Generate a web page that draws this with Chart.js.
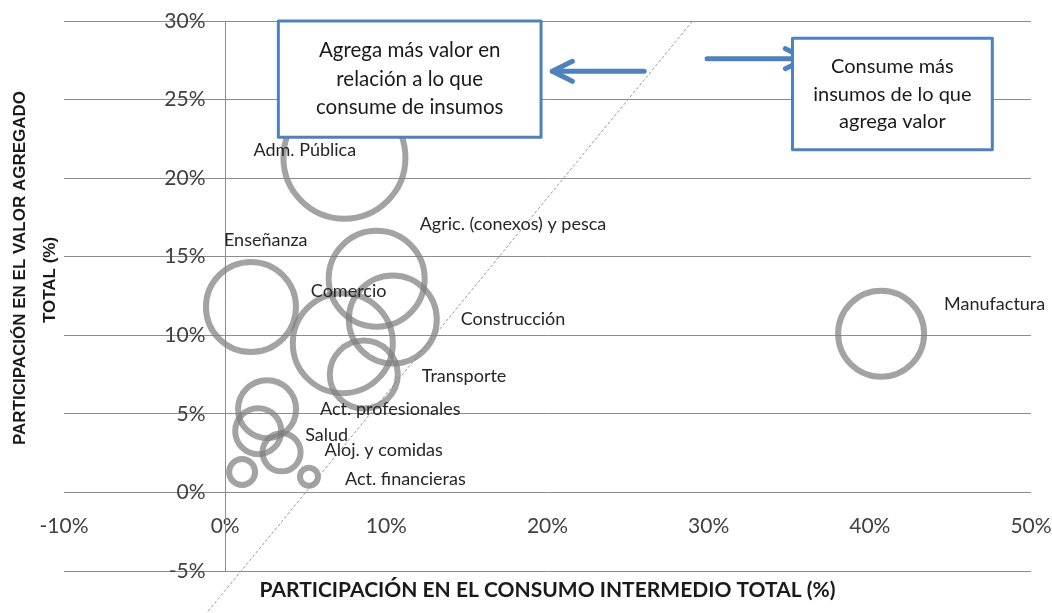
<!DOCTYPE html>
<html>
<head>
<meta charset="utf-8">
<script src="https://cdn.jsdelivr.net/npm/chart.js@4.4.1/dist/chart.umd.min.js"></script>
<style>
  html, body { margin: 0; padding: 0; background: #fff; }
</style>
</head>
<body>
<canvas id="grafico" width="1052" height="613"></canvas>
<script>
// datos (en %)
const sectores = ['Adm. Pública', 'Enseñanza', 'Agric. (conexos) y pesca', 'Construcción', 'Comercio',
  'Transporte', 'Act. profesionales', 'Salud', 'Aloj. y comidas', '', 'Act. financieras', 'Manufactura']
const consumoIntermedio = [7.4, 1.6, 9.4, 10.4, 7.3, 8.6, 2.6, 2.05, 3.5, 1.05, 5.2, 40.7]
const valorAgregado = [21.3, 11.8, 13.6, 11.0, 9.5, 7.5, 5.3, 3.9, 2.55, 1.3, 1.0, 10.1]
const tamano = [61, 45, 48, 44, 50, 34, 29, 23, 19, 13, 9, 43]

const ticksX = [-10, 0, 10, 20, 30, 40, 50]
const ticksY = [-5, 0, 5, 10, 15, 20, 25, 30]

// recta de referencia (punteada)
const diagonalX = [-1.25, 29]
const diagonalY = [-7.8, 30]

// posición de cada etiqueta respecto al centro de la burbuja (px)
const desplazamientos = [[-91, -8], [-27, -67], [43, -55], [68, 0], [-32, -52], [58, 2],
  [53, 0], [47, 4], [43, -2], [0, 0], [36, 2], [63, -30]]

const azul = '#4F81BD'

const etiquetas = {
  id: 'etiquetas',
  afterDatasetsDraw(chart) {
    const ctx = chart.ctx
    const meta = chart.getDatasetMeta(0)
    ctx.save()
    ctx.font = '18px Lato'
    ctx.fillStyle = '#262626'
    ctx.textAlign = 'left'
    ctx.textBaseline = 'middle'
    meta.data.forEach((pt, i) => {
      if (!sectores[i]) return
      const [dx, dy] = desplazamientos[i]
      ctx.fillText(sectores[i], pt.x + dx, pt.y + dy)
    })
    ctx.restore()
  }
}

function cuadro(ctx, sx, sy, x0, x1, y0, y1, lineas, size, interlinea) {
  const l = sx.getPixelForValue(x0), r = sx.getPixelForValue(x1)
  const t = sy.getPixelForValue(y0), b = sy.getPixelForValue(y1)
  ctx.fillStyle = '#fff'
  ctx.fillRect(l, t, r - l, b - t)
  ctx.strokeStyle = azul
  ctx.lineWidth = 3
  ctx.strokeRect(l, t, r - l, b - t)
  ctx.fillStyle = '#1a1a1a'
  ctx.font = size + 'px Lato'
  ctx.textAlign = 'center'
  ctx.textBaseline = 'middle'
  const cy = (t + b) / 2 - (lineas.length - 1) * interlinea / 2
  lineas.forEach((txt, i) => ctx.fillText(txt, (l + r) / 2, cy + i * interlinea))
}

function flecha(ctx, sx, sy, x0, x1, y, haciaIzq) {
  const a = sx.getPixelForValue(x0), b = sx.getPixelForValue(x1), py = sy.getPixelForValue(y)
  ctx.strokeStyle = azul
  ctx.lineWidth = 5
  ctx.lineCap = 'round'
  ctx.lineJoin = 'round'
  ctx.beginPath()
  ctx.moveTo(a, py)
  ctx.lineTo(b, py)
  ctx.stroke()
  const d = haciaIzq ? 1 : -1
  ctx.beginPath()
  ctx.moveTo(b + d * 20, py - 10)
  ctx.lineTo(b, py)
  ctx.lineTo(b + d * 20, py + 10)
  ctx.stroke()
}

const anotaciones = {
  id: 'anotaciones',
  afterDraw(chart) {
    const ctx = chart.ctx
    const sx = chart.scales.x, sy = chart.scales.y
    const area = chart.chartArea
    ctx.save()
    flecha(ctx, sx, sy, 26.0, 20.3, 26.8, true)
    flecha(ctx, sx, sy, 29.9, 36.0, 27.6, false)
    cuadro(ctx, sx, sy, 3.3, 19.6, 30, 22.6,
      ['Agrega más valor en', 'relación a lo que', 'consume de insumos'], 20.5, 28.5)
    cuadro(ctx, sx, sy, 35.2, 47.6, 28.9, 21.8,
      ['Consume más', 'insumos de lo que', 'agrega valor'], 20, 27.5)

    // títulos de los ejes
    ctx.fillStyle = '#1a1a1a'
    ctx.textAlign = 'center'
    ctx.textBaseline = 'middle'
    ctx.font = 'bold 21px Lato'
    ctx.fillText('PARTICIPACIÓN EN EL CONSUMO INTERMEDIO TOTAL (%)', (area.left + area.right) / 2, 590)
    ctx.font = 'bold 17px "Liberation Sans"'
    ctx.translate(20, 268)
    ctx.rotate(-Math.PI / 2)
    ctx.fillText('PARTICIPACIÓN EN EL VALOR AGREGADO', 0, 0)
    ctx.fillText('TOTAL (%)', -12, 30)
    ctx.restore()
  }
}

// los ejes cruzan en el centro: que no resten espacio al área del gráfico
const sinMargen = axis => {
  axis.paddingTop = 0
  axis.paddingBottom = 0
  axis.paddingLeft = 0
  axis.paddingRight = 0
}

const el = document.getElementById('grafico')
const fuenteEje = { family: 'Lato', size: 21 }

new Chart(el, {
  type: 'bubble',
  data: {
    labels: sectores,
    datasets: [
      {
        type: 'bubble',
        data: sectores.map((s, i) => ({ x: consumoIntermedio[i], y: valorAgregado[i], r: tamano[i] })),
        backgroundColor: 'rgba(0,0,0,0)',
        borderColor: 'rgba(128,128,128,0.72)',
        borderWidth: 6,
        order: 1
      },
      {
        type: 'line',
        data: diagonalX.map((x, i) => ({ x: x, y: diagonalY[i] })),
        borderColor: '#9a9a9a',
        borderWidth: 1,
        borderDash: [3, 2],
        pointRadius: 0,
        fill: false,
        clip: false,
        order: 2
      }
    ]
  },
  options: {
    responsive: false,
    animation: false,
    events: [],
    layout: { autoPadding: false, padding: { left: 64, right: 21, top: 21, bottom: 42 } },
    plugins: {
      legend: { display: false },
      tooltip: { enabled: false }
    },
    scales: {
      x: {
        type: 'linear',
        min: ticksX[0],
        max: ticksX[ticksX.length - 1],
        position: { y: 0 },
        grid: { display: false, drawTicks: false },
        border: { display: false },
        afterBuildTicks: axis => { axis.ticks = ticksX.map(v => ({ value: v })) },
        afterFit: sinMargen,
        ticks: {
          padding: 21,
          maxRotation: 0,
          color: '#404040',
          font: fuenteEje,
          callback: v => v + '%'
        }
      },
      y: {
        type: 'linear',
        min: ticksY[0],
        max: ticksY[ticksY.length - 1],
        position: { x: 0 },
        grid: { color: '#8c8c8c', drawTicks: false },
        border: { color: '#8c8c8c' },
        afterBuildTicks: axis => { axis.ticks = ticksY.map(v => ({ value: v })) },
        afterFit: sinMargen,
        ticks: {
          color: '#404040',
          font: fuenteEje,
          // separación entre la etiqueta y el eje vertical
          callback: v => v + '%\u2003\u2009\u200A'
        }
      }
    }
  },
  plugins: [etiquetas, anotaciones]
})
</script>
</body>
</html>
